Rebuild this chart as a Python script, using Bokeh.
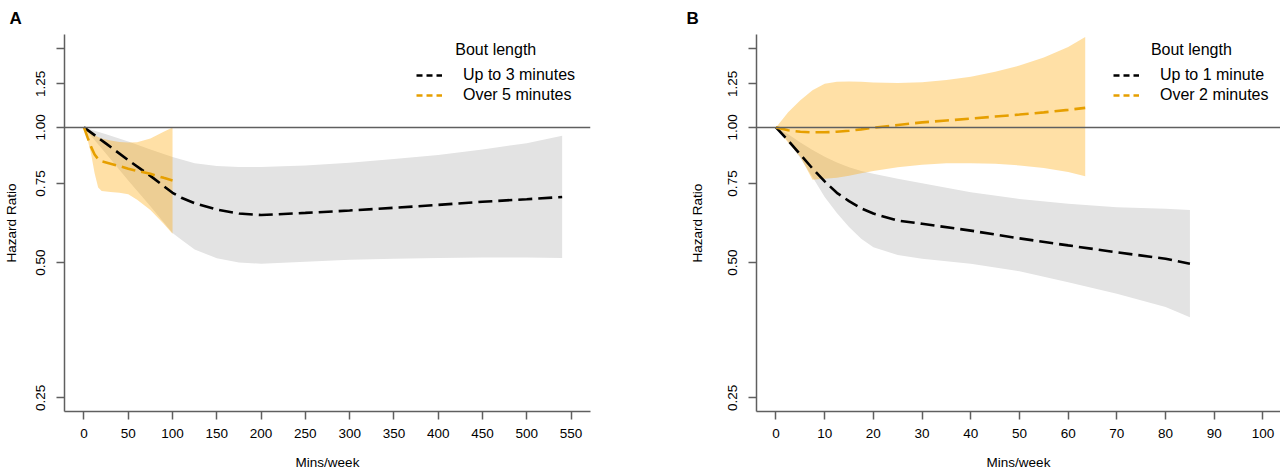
import math
from bokeh.plotting import figure
from bokeh.models import (Span, Label, Legend, LegendItem, FixedTicker,
                          CustomJSTickFormatter, Range1d)
from bokeh.layouts import row
from bokeh.embed import file_html
from bokeh.resources import INLINE

# ---------------- data ----------------
# Panel A: total mins/week, bout length up to 3 min vs over 5 min
a_grey_x = [0, 25, 50, 75, 100, 110, 125, 150, 175, 200, 250, 300, 350, 400, 450, 500, 540]
a_grey_hr = [1.0, 0.92, 0.845, 0.78, 0.715, 0.697, 0.678, 0.656, 0.643, 0.638, 0.645, 0.653, 0.662, 0.672, 0.683, 0.692, 0.70]
a_grey_hi = [1.0, 0.965, 0.93, 0.893, 0.859, 0.848, 0.832, 0.82, 0.816, 0.816, 0.822, 0.834, 0.85, 0.868, 0.893, 0.922, 0.958]
a_grey_lo = [1.0, 0.874, 0.762, 0.667, 0.582, 0.562, 0.535, 0.511, 0.5, 0.497, 0.502, 0.507, 0.51, 0.512, 0.513, 0.513, 0.512]

a_orng_x = [0, 4, 8, 12, 16, 20, 30, 40, 50, 60, 75, 90, 100]
a_orng_hr = [1.0, 0.95, 0.905, 0.87, 0.85, 0.84, 0.83, 0.82, 0.809, 0.8, 0.788, 0.772, 0.762]
a_orng_hi = [1.0, 0.985, 0.97, 0.96, 0.952, 0.945, 0.935, 0.928, 0.925, 0.927, 0.945, 0.978, 1.0]
a_orng_lo = [1.0, 0.94, 0.874, 0.79, 0.735, 0.722, 0.718, 0.715, 0.71, 0.69, 0.655, 0.61, 0.58]

# Panel B: total mins/week, bout length up to 1 min vs over 2 min
b_grey_x = [0, 2.5, 5, 7.5, 10, 12.5, 15, 17.5, 20, 25, 30, 40, 50, 60, 70, 80, 85]
b_grey_hr = [1.0, 0.935, 0.87, 0.81, 0.758, 0.715, 0.685, 0.66, 0.643, 0.62, 0.61, 0.589, 0.566, 0.546, 0.527, 0.51, 0.497]
b_grey_hi = [1.0, 0.965, 0.925, 0.89, 0.86, 0.835, 0.815, 0.8, 0.788, 0.768, 0.751, 0.717, 0.693, 0.676, 0.664, 0.659, 0.655]
b_grey_lo = [1.0, 0.93, 0.855, 0.775, 0.70, 0.645, 0.60, 0.565, 0.541, 0.52, 0.51, 0.497, 0.478, 0.452, 0.426, 0.398, 0.378]

b_orng_x = [0, 2.5, 5, 7.5, 10, 12.5, 15, 17.5, 20, 25, 30, 35, 40, 45, 50, 55, 60, 63.5]
b_orng_hr = [1.0, 0.985, 0.978, 0.975, 0.975, 0.978, 0.983, 0.99, 0.998, 1.012, 1.026, 1.036, 1.046, 1.057, 1.068, 1.08, 1.094, 1.105]
b_orng_hi = [1.0, 1.08, 1.15, 1.21, 1.25, 1.263, 1.266, 1.263, 1.258, 1.255, 1.26, 1.275, 1.297, 1.33, 1.373, 1.43, 1.51, 1.59]
b_orng_lo = [1.0, 0.925, 0.86, 0.765, 0.768, 0.772, 0.78, 0.79, 0.80, 0.815, 0.826, 0.832, 0.832, 0.83, 0.823, 0.812, 0.796, 0.778]

y_ticks = [0.25, 0.5, 0.75, 1.0, 1.25, 1.5]
a_x_ticks = [0, 50, 100, 150, 200, 250, 300, 350, 400, 450, 500, 550]
b_x_ticks = [0, 10, 20, 30, 40, 50, 60, 70, 80, 90, 100]

a_legend = ["Up to 3 minutes", "Over 5 minutes"]
b_legend = ["Up to 1 minute", "Over 2 minutes"]
legend_title = "Bout length"

# ---------------- style ----------------
FONT = "Liberation Sans"
AX = "#5f5f5f"
GREY_FILL = "#e3e3e3"
ORANGE_FILL = "#ffa500"
ORANGE_LINE = "#e69f00"
TICK_FS = "13.5px"


def panel(letter, xr, xticks, border_left, border_right,
          gx, ghr, ghi, glo, ox, ohr, ohi, olo, labels, title_pos,
          letter_offset, ylab_standoff, t_lh):
    p = figure(width=640, height=474, x_range=Range1d(*xr),
               y_range=Range1d(0.233, 1.61), y_axis_type="log",
               output_backend="svg", toolbar_location=None,
               min_border_left=border_left, min_border_right=border_right,
               min_border_top=33, min_border_bottom=63)
    p.outline_line_color = None
    p.grid.visible = False
    p.background_fill_color = "white"

    # panel letter as title
    p.title.text = letter
    p.title.align = "left"
    p.title.offset = letter_offset
    p.title.standoff = 13
    p.title.text_line_height = t_lh
    p.title.text_font = FONT
    p.title.text_font_size = "17px"
    p.title.text_font_style = "bold"
    p.title.text_color = "black"

    # bands
    p.varea(x=gx, y1=glo, y2=ghi, fill_color=GREY_FILL, fill_alpha=1.0)
    p.varea(x=ox, y1=olo, y2=ohi, fill_color=ORANGE_FILL, fill_alpha=0.35)

    # reference line
    p.add_layout(Span(location=1.0, dimension="width", line_color=AX, line_width=1.5))

    # fitted curves
    p.line(gx, ghr, line_color="black", line_width=2.6, line_dash="14 6")
    p.line(ox, ohr, line_color=ORANGE_LINE, line_width=2.6, line_dash="14 6")

    # legend (short dash samples; single-point lines draw nothing in the plot)
    r1 = p.line(gx[:1], ghr[:1], line_color="black", line_width=2.4, line_dash="6 4")
    r2 = p.line(ox[:1], ohr[:1], line_color=ORANGE_LINE, line_width=2.4, line_dash="6 4")
    leg = Legend(items=[LegendItem(label=labels[0], renderers=[r1]),
                        LegendItem(label=labels[1], renderers=[r2])],
                 location=(title_pos[2], 306), glyph_width=26, glyph_height=20,
                 label_height=20, label_standoff=21, spacing=0, padding=0,
                 margin=0, border_line_color=None, background_fill_alpha=0,
                 label_text_font=FONT, label_text_font_size="16px",
                 label_text_color="black")
    p.add_layout(leg)
    p.add_layout(Label(x=title_pos[0], y=title_pos[1], text=legend_title,
                       text_font=FONT, text_font_size="16px", text_align="center",
                       text_baseline="middle", text_color="black"))

    # axes
    for ax in (p.xaxis[0], p.yaxis[0]):
        ax.axis_line_color = AX
        ax.axis_line_width = 1.5
        ax.major_tick_line_color = AX
        ax.major_tick_line_width = 1.5
        ax.major_tick_out = 8
        ax.major_tick_in = 0
        ax.minor_tick_line_color = None
        ax.major_label_text_font = FONT
        ax.major_label_text_font_size = TICK_FS
        ax.major_label_text_color = "black"
        ax.axis_label_text_font = FONT
        ax.axis_label_text_font_size = TICK_FS
        ax.axis_label_text_font_style = "normal"
        ax.axis_label_text_color = "black"

    p.xaxis.ticker = FixedTicker(ticks=xticks)
    p.xaxis.axis_label = "Mins/week"
    p.xaxis.major_label_standoff = 9
    p.xaxis.axis_label_standoff = 14

    p.yaxis.ticker = FixedTicker(ticks=y_ticks)
    p.yaxis.formatter = CustomJSTickFormatter(
        code="return Math.abs(tick - 1.5) < 1e-9 ? '' : tick.toFixed(2);")
    p.yaxis.major_label_orientation = "vertical"
    p.yaxis.major_label_standoff = 11
    p.yaxis.axis_label = "Hazard Ratio"
    p.yaxis.axis_label_standoff = ylab_standoff
    return p


pa = panel("A", (-22, 572), a_x_ticks, 64, 50,
           a_grey_x, a_grey_hr, a_grey_hi, a_grey_lo,
           a_orng_x, a_orng_hr, a_orng_hi, a_orng_lo,
           a_legend, (465, 1.49, 352), -55, 15, 0.5)
pb = panel("B", (-4, 103.6), b_x_ticks, 116, 0,
           b_grey_x, b_grey_hr, b_grey_hi, b_grey_lo,
           b_orng_x, b_orng_hr, b_orng_hi, b_orng_lo,
           b_legend, (85.3, 1.49, 357), -70, 21, 1.0)

layout = row(pa, pb)
open("out.html", "w").write(file_html(layout, INLINE))
